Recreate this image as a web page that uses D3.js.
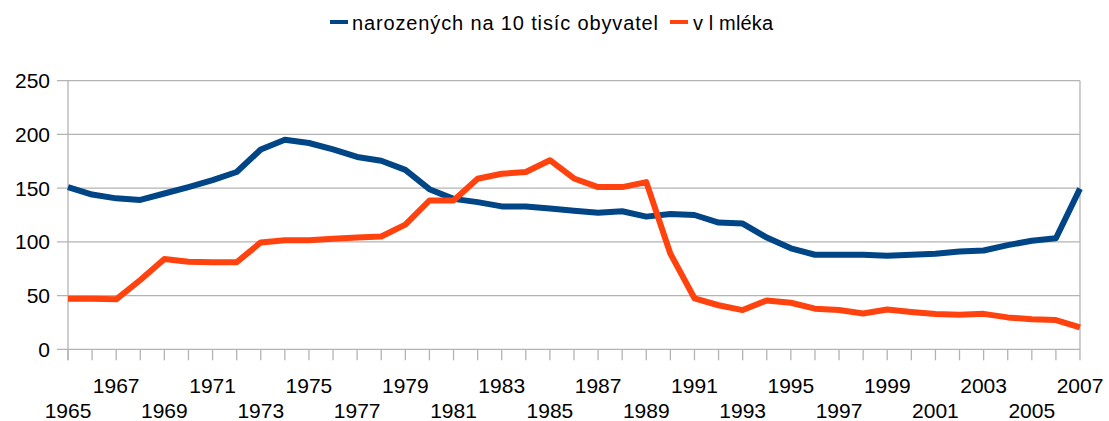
<!DOCTYPE html>
<html><head><meta charset="utf-8">
<script src="https://cdn.jsdelivr.net/npm/d3@7"></script>
<style>body{margin:0;background:#fff}svg{display:block}text{font-family:"Liberation Sans",Arial,sans-serif;fill:#000}</style>
</head><body><svg id="c" width="1109" height="421"></svg>
<script>
const years = d3.range(1965, 2008);
const births = [151,144,140.5,139,145,151,157.5,165,186,195,192,186,179,175.5,167,149,140,137,133,133,131,129,127,128.5,123.5,126,125,118,117,104,94,88,88,88,87,88,89,91,92,97,101,103.4,149.5];
const milk = [47,47,46.5,64.5,84,81.5,81,81,99.5,101.5,101.5,103,104,105,116,138.5,138.5,158.7,163.4,165,176,159,151,151,155.6,89,47.5,41,36.5,45.5,43.3,37.8,36.5,33.4,37,34.7,32.8,32.2,33,29.7,27.9,27.2,20.4];
const yTicks = [0,50,100,150,200,250];
const seriesNames = ["narozených na 10 tisíc obyvatel","v l mléka"];
const colors = ["#004586","#ff420e"];

const svg = d3.select("#c");
const L=68, R=1080, T=80.7, B=349.3;
const x = d3.scaleLinear().domain([1965,2007]).range([L,R]);
const y = d3.scaleLinear().domain([0,250]).range([B,T]);
const grid="#b3b3b3";

svg.append("g").selectAll("line").data(yTicks).join("line")
  .attr("x1",L-11).attr("x2",R).attr("y1",d=>y(d)).attr("y2",d=>y(d))
  .attr("stroke",grid).attr("stroke-width",1.3);
svg.append("line").attr("x1",R).attr("x2",R).attr("y1",T).attr("y2",B).attr("stroke",grid).attr("stroke-width",1.3);
svg.append("line").attr("x1",L).attr("x2",L).attr("y1",T).attr("y2",B+11).attr("stroke",grid).attr("stroke-width",1.3);
svg.append("g").selectAll("line").data(years).join("line")
  .attr("x1",d=>x(d)).attr("x2",d=>x(d)).attr("y1",B).attr("y2",B+11)
  .attr("stroke",grid).attr("stroke-width",1.3);
svg.append("g").selectAll("text").data(yTicks).join("text")
  .attr("x",50).attr("y",d=>y(d)).attr("dy","0.36em").attr("text-anchor","end")
  .style("font-size","21px").text(d=>d);
const labYears = years.filter(d=>d%2===1);
svg.append("g").selectAll("text").data(labYears).join("text")
  .attr("x",d=>x(d)).attr("y",d=>((d-1965)/2)%2===0?410:385).attr("dy","0.36em")
  .attr("text-anchor","middle").style("font-size","21px").text(d=>d);

const line = d3.line().x((d,i)=>x(years[i])).y(d=>y(d));
[births,milk].forEach((s,k)=>{
  svg.append("path").datum(s).attr("d",line).attr("fill","none")
    .attr("stroke",colors[k]).attr("stroke-width",6).attr("stroke-linejoin","round");
});

const lg = [{x:330,t:352,w:306},{x:670,t:693,w:80}];
lg.forEach((p,k)=>{
  svg.append("line").attr("x1",p.x).attr("x2",p.x+18).attr("y1",22).attr("y2",22).attr("stroke",colors[k]).attr("stroke-width",4);
  svg.append("text").attr("x",p.t).attr("y",23).attr("dy","0.36em").style("font-size","20px")
    .attr("textLength",p.w).attr("lengthAdjust","spacing").text(seriesNames[k]);
});
</script></body></html>
